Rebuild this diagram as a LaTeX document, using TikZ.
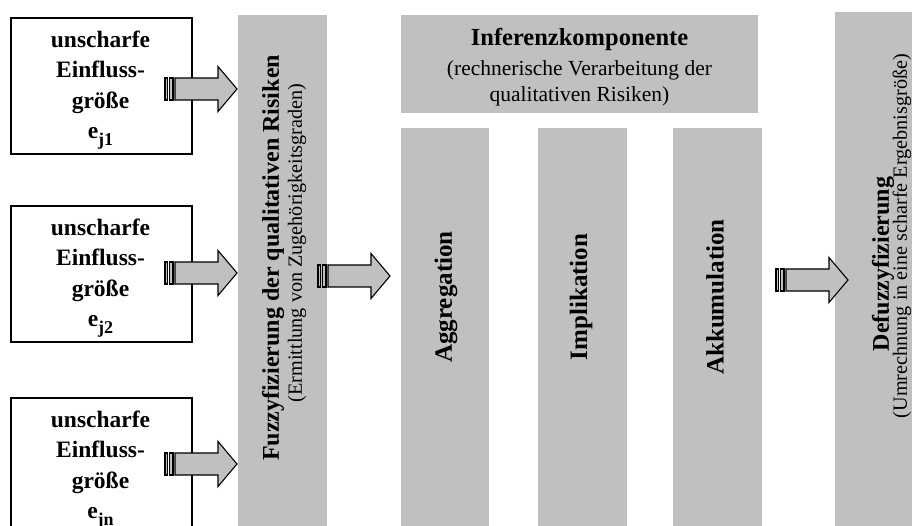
\documentclass[tikz,border=0pt]{standalone}
\usepackage{fontspec}
\setmainfont{Liberation Serif}
\definecolor{panelgray}{HTML}{C0C0C0}
\tikzset{
  inbox/.style={draw, line width=1.6pt, minimum width=181pt, minimum height=136pt, anchor=north west, inner sep=0pt},
  panel/.style={fill=panelgray, draw=none, inner sep=0pt, anchor=north west},
  boxtext/.style={align=center, font=\bfseries\fontsize{23.5}{30.5}\selectfont, inner sep=0pt},
  titletext/.style={rotate=90, inner sep=0pt, font=\bfseries\fontsize{24}{26}\selectfont},
  coltext/.style={rotate=90, inner sep=0pt, font=\bfseries\fontsize{25}{26}\selectfont},
  subtext/.style={rotate=90, inner sep=0pt, font=\fontsize{20.2}{24}\selectfont},
  arrowpart/.style={fill=panelgray, draw=black, line width=1.1pt, line join=miter},
  pics/striparrow/.style={code={
    \filldraw[arrowpart] (0,-11) rectangle (2.5,11);
    \filldraw[arrowpart] (4.5,-11) rectangle (8,11);
    \filldraw[arrowpart] (10,-11) -- (53,-11) -- (53,-22.5) -- (72,0) -- (53,22.5) -- (53,11) -- (10,11) -- cycle;
  }}
}
\newcommand{\esub}[1]{e\raisebox{-7pt}{\fontsize{18}{18}\selectfont #1}}
\begin{document}
\begin{tikzpicture}[x=1pt,y=-1pt]
\useasboundingbox (0,0) rectangle (912,526);
\clip (0,0) rectangle (912,526);
% input boxes
\node[inbox] (b1) at (10,17) {};
\node[inbox] (b2) at (10,205) {};
\node[inbox] (b3) at (10,397) {};
\node[boxtext] (t1) at (100.5,90) {unscharfe\\Einfluss-\\größe\\\esub{j1}};
\node[boxtext] (t2) at (100.5,278) {unscharfe\\Einfluss-\\größe\\\esub{j2}};
\node[boxtext] (t3) at (100.5,470) {unscharfe\\Einfluss-\\größe\\\esub{jn}};
% panels
\node[panel, minimum width=89pt, minimum height=520pt] (fuzzy) at (238,15) {};
\node[panel, minimum width=357pt, minimum height=98pt] (inf) at (401,15) {};
\node[panel, minimum width=88pt, minimum height=410pt] (agg) at (401,128) {};
\node[panel, minimum width=89pt, minimum height=410pt] (imp) at (538,128) {};
\node[panel, minimum width=89pt, minimum height=410pt] (akk) at (673,128) {};
\node[panel, minimum width=90pt, minimum height=530pt] (defuz) at (835,12) {};
% texts
\node[titletext] (fuzt) at (273,258) {Fuzzyfizierung der qualitativen Risiken};
\node[subtext] (fuzs) at (297,243) {(Ermittlung von Zugehörigkeitsgraden)};
\node[align=center, inner sep=0pt, font=\fontsize{21.5}{26}\selectfont] (inft) at (579.5,67)
  {{\bfseries\fontsize{24.5}{27}\selectfont Inferenzkomponente}\\[4pt](rechnerische Verarbeitung der\\qualitativen Risiken)};
\node[coltext] (aggt) at (446,297) {Aggregation};
\node[coltext] (impt) at (581,297) {Implikation};
\node[coltext] (akkt) at (715,297) {Akkumulation};
\node[titletext] (deft) at (883,264) {Defuzzyfizierung};
\node[subtext] (defs) at (902,236) {(Umrechnung in eine scharfe Ergebnisgröße)};
% block arrows
\pic at (165,89) {striparrow};
\pic at (165,273) {striparrow};
\pic at (165,464) {striparrow};
\pic at (318,276) {striparrow};
\pic at (776,280) {striparrow};
\end{tikzpicture}
\end{document}
